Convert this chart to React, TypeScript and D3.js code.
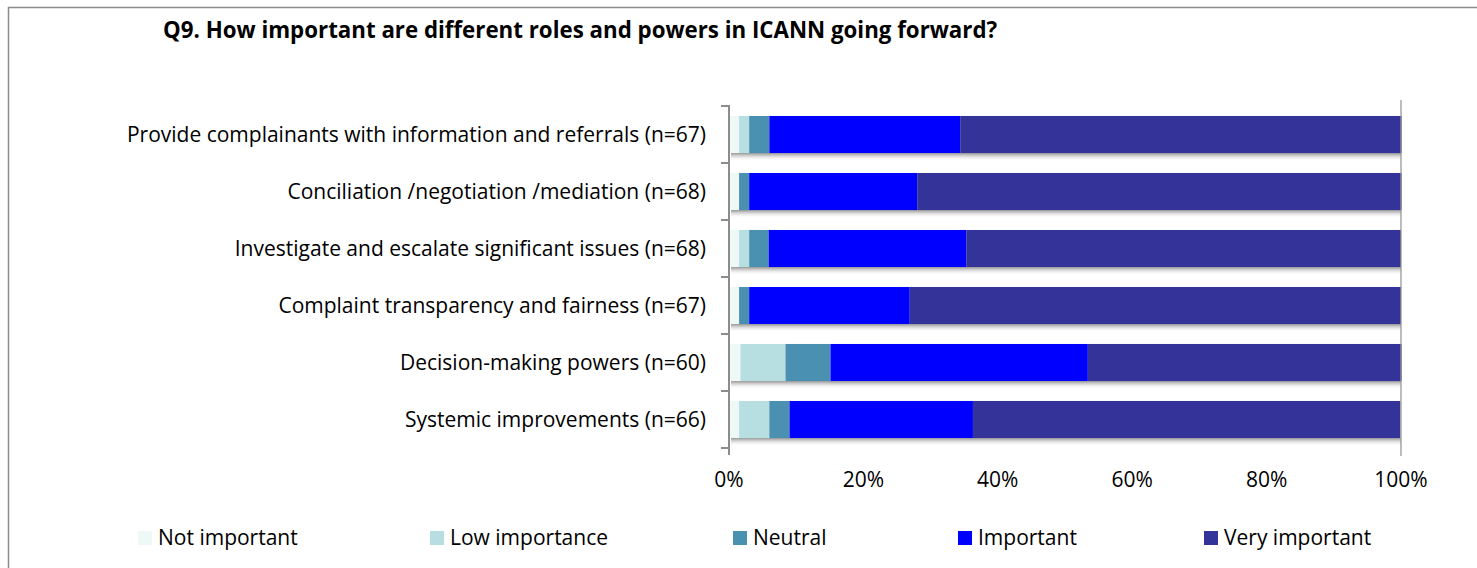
import React from "react";
import * as d3 from "d3";

const categories = [
  "Provide complainants with information and referrals (n=67)",
  "Conciliation /negotiation /mediation (n=68)",
  "Investigate and escalate significant issues (n=68)",
  "Complaint transparency and fairness (n=67)",
  "Decision-making powers (n=60)",
  "Systemic improvements (n=66)",
];
const seriesNames = ["Not important", "Low importance", "Neutral", "Important", "Very important"];
const notImportant = [1.5, 1.5, 1.5, 1.5, 1.7, 1.5];
const lowImportance = [1.5, 0, 1.5, 0, 6.7, 4.5];
const neutral = [3.0, 1.5, 2.9, 1.5, 6.7, 3.0];
const important = [28.4, 25.0, 29.4, 23.9, 38.3, 27.3];
const veryImportant = [65.7, 72.1, 64.7, 73.1, 46.7, 63.6];
const tickValues = [0, 20, 40, 60, 80, 100];
const colors = ["#EEF8F7", "#B7DFE2", "#4A91B1", "#0000FF", "#333399"];

const W = 1477, H = 568;
const left = 729, right = 1401, top = 106, bottom = 448;

export default function App() {
  const x = d3.scaleLinear().domain([0, 100]).range([left, right]);
  const y = d3.scaleBand().domain(categories).range([top, bottom]).paddingInner(0.35).paddingOuter(0.175);
  const rows = categories.map((c, i) => ({
    cat: c,
    vals: [notImportant[i], lowImportance[i], neutral[i], important[i], veryImportant[i]],
  }));
  const step = y.step();
  const font = "'Open Sans', sans-serif";
  const legendX = [138, 430, 733, 958, 1204];
  const fs = 21;
  return (
    <div style={{ position: "absolute", left: 0, top: 0 }}>
      <svg width={W} height={H} style={{ display: "block" }} fontFamily={font}>
        <defs>
          <linearGradient id="shadow" x1="0" y1="0" x2="0" y2="1">
            <stop offset="0" stopColor="#888" stopOpacity="0.9" />
            <stop offset="1" stopColor="#fff" stopOpacity="0" />
          </linearGradient>
        </defs>
        <rect x={0} y={0} width={W} height={H} fill="#fff" />
        <rect x={8.5} y={7.5} width={W + 20} height={H + 20} fill="none" stroke="#8c8c8c" strokeWidth={1.5} />
        <text x={163} y={38} fontSize={22.3} fontWeight="bold" fill="#000">
          Q9. How important are different roles and powers in ICANN going forward?
        </text>
        {rows.map((r) => {
          const by = y(r.cat)!;
          const bh = y.bandwidth();
          let cum = 0;
          return (
            <g key={r.cat}>
              <rect x={left + 2} y={by + bh} width={right - left - 2} height={8} fill="url(#shadow)" />
              {r.vals.map((v, j) => {
                const x0 = x(cum);
                cum += v;
                const x1 = x(cum);
                return <rect key={j} x={x0} y={by} width={Math.max(0, x1 - x0)} height={bh} fill={colors[j]} />;
              })}
              <text x={706} y={by + bh / 2} dy="0.35em" textAnchor="end" fontSize={fs} fill="#000">
                {r.cat}
              </text>
            </g>
          );
        })}
        <line x1={right} x2={right} y1={top - 6} y2={bottom + 8} stroke="#999" strokeWidth={1.3} />
        <line x1={left} x2={left} y1={top - 1} y2={bottom + 7} stroke="#8c8c8c" strokeWidth={2} />
        {d3.range(categories.length + 1).map((i) => (
          <line key={i} x1={left - 8} x2={left} y1={top + i * step} y2={top + i * step} stroke="#8c8c8c" strokeWidth={2} />
        ))}
        {tickValues.map((t) => (
          <text key={t} x={x(t)} y={487} textAnchor="middle" fontSize={fs} fill="#000">
            {t}%
          </text>
        ))}
        {seriesNames.map((s, i) => (
          <g key={s}>
            <rect x={legendX[i]} y={531} width={14} height={14} fill={colors[i]} />
            <text x={legendX[i] + 20} y={545} fontSize={fs} fill="#000">
              {s}
            </text>
          </g>
        ))}
      </svg>
    </div>
  );
}
